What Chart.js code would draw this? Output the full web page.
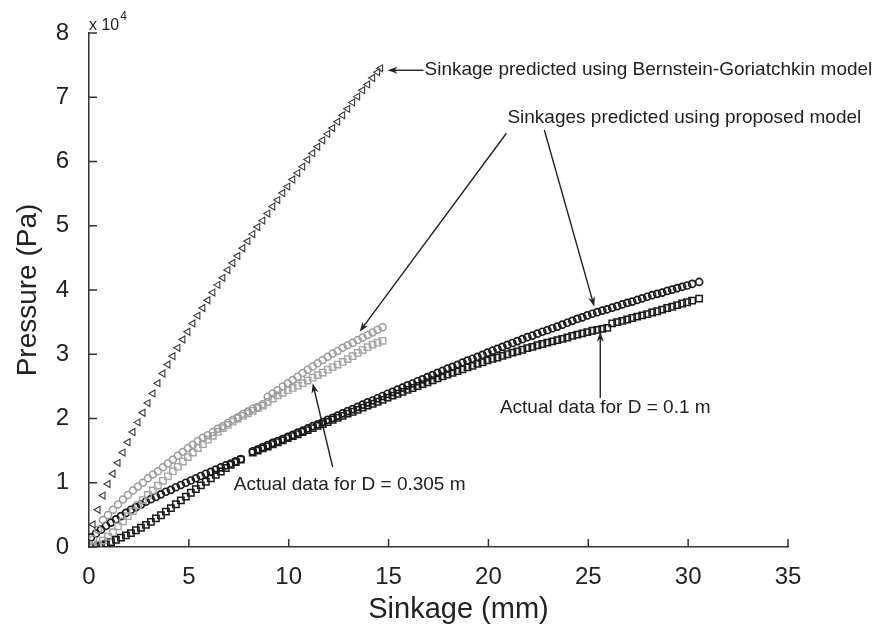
<!DOCTYPE html>
<html>
<head>
<meta charset="utf-8">
<script src="https://cdn.jsdelivr.net/npm/chart.js@4/dist/chart.umd.min.js"></script>
<style>
  body { margin: 0; background: #fff; }
  #plot { display: block; }
</style>
</head>
<body>
<canvas id="plot" width="874" height="627"></canvas>
<script>

// pressure values are in units of 10^4 Pa, sinkage in mm

// Bernstein-Goriatchkin prediction
var bgSinkage = [0.2, 0.45, 0.7, 0.95, 1.2, 1.45, 1.7, 1.95, 2.2, 2.45, 2.7, 2.95, 3.2, 3.45, 3.7, 3.95, 4.2, 4.45, 4.7, 4.95,
    5.2, 5.45, 5.7, 5.95, 6.2, 6.45, 6.7, 6.95, 7.2, 7.45, 7.7, 7.95, 8.2, 8.45, 8.7, 8.95, 9.2, 9.45, 9.7, 9.95,
    10.2, 10.45, 10.7, 10.95, 11.2, 11.45, 11.7, 11.95, 12.2, 12.45, 12.7, 12.95, 13.2, 13.45, 13.7, 13.95, 14.2, 14.45, 14.6];
var bgPressure = [0.35, 0.58, 0.80, 0.98, 1.14, 1.31, 1.47, 1.63, 1.79, 1.94, 2.09, 2.24, 2.39, 2.55, 2.70, 2.84, 2.97, 3.10, 3.23, 3.35,
    3.48, 3.60, 3.72, 3.84, 3.96, 4.08, 4.19, 4.31, 4.42, 4.53, 4.65, 4.76, 4.87, 4.98, 5.08, 5.19, 5.30, 5.40, 5.51, 5.61,
    5.72, 5.82, 5.92, 6.03, 6.13, 6.23, 6.33, 6.43, 6.52, 6.62, 6.72, 6.82, 6.92, 7.01, 7.11, 7.20, 7.30, 7.39, 7.45];

// D = 0.305 m plate
var sinkD0305 = [0.2, 0.45, 0.7, 0.95, 1.2, 1.45, 1.7, 1.95, 2.2, 2.45, 2.7, 2.95, 3.2, 3.45, 3.7, 3.95, 4.2, 4.45, 4.7, 4.95,
    5.2, 5.45, 5.7, 5.95, 6.2, 6.45, 6.7, 6.95, 7.2, 7.45, 7.7, 7.95, 8.2, 8.45, 8.7, 8.95, 9.2, 9.45, 9.7, 9.95,
    10.2, 10.45, 10.7, 10.95, 11.2, 11.45, 11.7, 11.95, 12.2, 12.45, 12.7, 12.95, 13.2, 13.45, 13.7, 13.95, 14.2, 14.45, 14.7];
var modelD0305 = [0.12, 0.27, 0.42, 0.50, 0.58, 0.66, 0.74, 0.81, 0.88, 0.94, 1.00, 1.07, 1.13, 1.18, 1.24, 1.30, 1.36, 1.42, 1.48, 1.54,
    1.59, 1.65, 1.70, 1.74, 1.79, 1.84, 1.88, 1.93, 1.98, 2.02, 2.07, 2.11, 2.15, 2.18, 2.22, 2.34, 2.39, 2.44, 2.50, 2.55,
    2.60, 2.65, 2.71, 2.76, 2.81, 2.86, 2.91, 2.96, 3.01, 3.05, 3.10, 3.14, 3.18, 3.22, 3.26, 3.30, 3.34, 3.38, 3.42];
var actualD0305 = [0.0, 0.04, 0.10, 0.16, 0.23, 0.32, 0.40, 0.48, 0.56, 0.65, 0.73, 0.81, 0.88, 0.955, 1.03, 1.10, 1.18, 1.25, 1.33, 1.40,
    1.47, 1.54, 1.60, 1.67, 1.73, 1.79, 1.85, 1.90, 1.95, 2.00, 2.04, 2.08, 2.12, 2.16, 2.20, 2.26, 2.31, 2.36, 2.40, 2.44,
    2.475, 2.51, 2.55, 2.59, 2.635, 2.675, 2.715, 2.76, 2.80, 2.84, 2.88, 2.925, 2.97, 3.02, 3.065, 3.11, 3.15, 3.18, 3.21];

// D = 0.1 m plate
var sinkD01 = [0.1, 0.35, 0.6, 0.85, 1.1, 1.35, 1.6, 1.85, 2.1, 2.35, 2.6, 2.85, 3.1, 3.35, 3.6, 3.85, 4.1, 4.35, 4.6, 4.85,
    5.1, 5.35, 5.6, 5.85, 6.1, 6.35, 6.6, 6.85, 7.1, 7.35, 7.6,
    8.2, 8.45, 8.7, 8.95, 9.2, 9.45, 9.7, 9.95, 10.2, 10.45, 10.7, 10.95, 11.2, 11.45, 11.7, 11.95, 12.2, 12.45, 12.7, 12.95,
    13.2, 13.45, 13.7, 13.95, 14.2, 14.45, 14.7, 14.95, 15.2, 15.45, 15.7, 15.95, 16.2, 16.45, 16.7, 16.95, 17.2, 17.45, 17.7, 17.95,
    18.2, 18.45, 18.7, 18.95, 19.2, 19.45, 19.7, 19.95, 20.2, 20.45, 20.7, 20.95, 21.2, 21.45, 21.7, 21.95, 22.2, 22.45, 22.7, 22.95,
    23.2, 23.45, 23.7, 23.95, 24.2, 24.45, 24.7, 24.95, 25.2, 25.45, 25.7, 25.95, 26.2, 26.45, 26.7, 26.95, 27.2, 27.45, 27.7, 27.95,
    28.2, 28.45, 28.7, 28.95, 29.2, 29.45, 29.7, 29.95, 30.2, 30.55];
var modelD01 = [0.15, 0.21, 0.27, 0.33, 0.38, 0.43, 0.48, 0.53, 0.58, 0.62, 0.66, 0.705, 0.745, 0.78, 0.82, 0.86, 0.89, 0.93, 0.965, 1.00,
    1.035, 1.07, 1.105, 1.14, 1.17, 1.205, 1.24, 1.27, 1.30, 1.335, 1.37,
    1.49, 1.52, 1.555, 1.585, 1.62, 1.65, 1.68, 1.715, 1.745, 1.78, 1.81, 1.845, 1.88, 1.91, 1.945, 1.98, 2.01, 2.045, 2.08, 2.115,
    2.145, 2.18, 2.215, 2.25, 2.28, 2.315, 2.35, 2.385, 2.415, 2.45, 2.48, 2.515, 2.545, 2.58, 2.61, 2.645, 2.675, 2.71, 2.74, 2.775,
    2.805, 2.835, 2.87, 2.90, 2.93, 2.96, 2.99, 3.025, 3.055, 3.085, 3.115, 3.145, 3.175, 3.205, 3.235, 3.265, 3.29, 3.32, 3.35, 3.375,
    3.405, 3.43, 3.46, 3.49, 3.52, 3.55, 3.575, 3.605, 3.63, 3.655, 3.68, 3.70, 3.725, 3.75, 3.775, 3.80, 3.82, 3.845, 3.87, 3.895,
    3.92, 3.94, 3.96, 3.985, 4.005, 4.03, 4.05, 4.07, 4.095, 4.125];
var actualD01 = [0.0, 0.01, 0.025, 0.045, 0.075, 0.11, 0.145, 0.18, 0.215, 0.26, 0.30, 0.345, 0.39, 0.445, 0.495, 0.55, 0.605, 0.665, 0.725, 0.785,
    0.845, 0.90, 0.96, 1.015, 1.07, 1.125, 1.175, 1.23, 1.28, 1.32, 1.36,
    1.47, 1.50, 1.535, 1.565, 1.60, 1.63, 1.66, 1.695, 1.725, 1.755, 1.79, 1.82, 1.85, 1.885, 1.915, 1.945, 1.98, 2.01, 2.04, 2.075,
    2.105, 2.135, 2.17, 2.20, 2.23, 2.26, 2.29, 2.325, 2.355, 2.385, 2.415, 2.445, 2.475, 2.505, 2.535, 2.565, 2.595, 2.625, 2.655, 2.685,
    2.71, 2.74, 2.765, 2.795, 2.82, 2.85, 2.875, 2.905, 2.93, 2.95, 2.975, 3.00, 3.025, 3.045, 3.07, 3.095, 3.115, 3.14, 3.16, 3.18,
    3.20, 3.22, 3.24, 3.26, 3.285, 3.305, 3.325, 3.345, 3.365, 3.38, 3.395, 3.41, 3.48, 3.50, 3.52, 3.54, 3.565, 3.585, 3.605, 3.625,
    3.65, 3.67, 3.695, 3.72, 3.74, 3.765, 3.79, 3.81, 3.835, 3.865];

var xTicks = [0, 5, 10, 15, 20, 25, 30, 35];
var yTicks = [0, 1, 2, 3, 4, 5, 6, 7, 8];

var FONT = "'Liberation Sans', Arial, Helvetica, sans-serif";
var INK = '#222';

function pairs(xs, ys) {
    var out = [];
    for (var i = 0; i < xs.length; i++) {
        out.push({ x: xs[i], y: ys[i] });
    }
    return out;
}

// text + arrows, positioned in data units
var notes = [
    { text: 'Sinkage predicted using Bernstein-Goriatchkin model', at: [16.8, 7.42], align: 'left',
      arrows: [[16.75, 7.42, 14.95, 7.42]] },
    { text: 'Sinkages predicted using proposed model', at: [20.95, 6.68], align: 'left',
      arrows: [[20.9, 6.44, 13.55, 3.35], [22.8, 6.49, 25.3, 3.74]] },
    { text: 'Actual data for D = 0.305 m', at: [13.05, 0.965], align: 'center',
      arrows: [[12.2, 1.245, 11.2, 2.55]] },
    { text: 'Actual data for D = 0.1 m', at: [25.85, 2.16], align: 'center',
      arrows: [[25.6, 2.32, 25.6, 3.35]] }
];

function drawArrow(ctx, x0, y0, x1, y1) {
    var ang = Math.atan2(y1 - y0, x1 - x0);
    var len = 10, half = 3.5;
    ctx.beginPath();
    ctx.moveTo(x0, y0);
    ctx.lineTo(x1 - Math.cos(ang) * len * 0.6, y1 - Math.sin(ang) * len * 0.6);
    ctx.stroke();
    ctx.beginPath();
    ctx.moveTo(x1, y1);
    ctx.lineTo(x1 - Math.cos(ang) * len - Math.sin(ang) * half, y1 - Math.sin(ang) * len + Math.cos(ang) * half);
    ctx.lineTo(x1 - Math.cos(ang) * len * 0.7, y1 - Math.sin(ang) * len * 0.7);
    ctx.lineTo(x1 - Math.cos(ang) * len + Math.sin(ang) * half, y1 - Math.sin(ang) * len - Math.cos(ang) * half);
    ctx.closePath();
    ctx.fill();
}

var decorations = {
    id: 'decorations',
    afterDraw: function(chart) {
        var ctx = chart.ctx;
        var xs = chart.scales.x, ys = chart.scales.y;
        var area = chart.chartArea;
        ctx.save();

        // inward tick marks, matlab style
        ctx.strokeStyle = '#333';
        ctx.lineWidth = 1.5;
        ctx.beginPath();
        xTicks.forEach(function(v) {
            var px = xs.getPixelForValue(v);
            ctx.moveTo(px, area.bottom);
            ctx.lineTo(px, area.bottom - 8);
        });
        yTicks.forEach(function(v) {
            var py = ys.getPixelForValue(v);
            ctx.moveTo(area.left, py);
            ctx.lineTo(area.left + 8, py);
        });
        ctx.stroke();

        // exponent over the y axis
        ctx.fillStyle = INK;
        ctx.textBaseline = 'alphabetic';
        ctx.textAlign = 'left';
        ctx.font = '16px ' + FONT;
        ctx.fillText('x 10', area.left, area.top - 3);
        var w = ctx.measureText('x 10').width;
        ctx.font = '12px ' + FONT;
        ctx.fillText('4', area.left + w + 1, area.top - 13);

        // x axis title, sits a little right of centre
        ctx.font = '29px ' + FONT;
        ctx.textAlign = 'center';
        ctx.textBaseline = 'middle';
        ctx.fillText('Sinkage (mm)', (area.left + area.right) / 2 + 20, chart.height - 17);

        // annotations
        ctx.strokeStyle = INK;
        ctx.fillStyle = INK;
        ctx.lineWidth = 1.4;
        ctx.font = '19px ' + FONT;
        ctx.textBaseline = 'middle';
        notes.forEach(function(n) {
            ctx.textAlign = n.align;
            ctx.fillText(n.text, xs.getPixelForValue(n.at[0]), ys.getPixelForValue(n.at[1]));
            n.arrows.forEach(function(a) {
                drawArrow(ctx, xs.getPixelForValue(a[0]), ys.getPixelForValue(a[1]),
                          xs.getPixelForValue(a[2]), ys.getPixelForValue(a[3]));
            });
        });
        ctx.restore();
    }
};

var hollow = 'rgba(0,0,0,0)';

new Chart(document.getElementById('plot'), {
    type: 'scatter',
    data: {
        datasets: [
            { label: 'Bernstein-Goriatchkin', data: pairs(bgSinkage, bgPressure),
              pointStyle: 'triangle', rotation: -90, pointRadius: 4, borderWidth: 1.1,
              borderColor: '#383838', backgroundColor: hollow },
            { label: 'Model D = 0.305 m', data: pairs(sinkD0305, modelD0305),
              pointStyle: 'circle', pointRadius: 3.5, borderWidth: 1.5,
              borderColor: '#9c9c9c', backgroundColor: hollow },
            { label: 'Actual D = 0.305 m', data: pairs(sinkD0305, actualD0305),
              pointStyle: 'rect', pointRadius: 4.5, borderWidth: 1.4,
              borderColor: '#a4a4a4', backgroundColor: hollow },
            { label: 'Model D = 0.1 m', data: pairs(sinkD01, modelD01),
              pointStyle: 'circle', pointRadius: 3.5, borderWidth: 1.7,
              borderColor: '#1a1a1a', backgroundColor: hollow },
            { label: 'Actual D = 0.1 m', data: pairs(sinkD01, actualD01),
              pointStyle: 'rect', pointRadius: 4.5, borderWidth: 1.5,
              borderColor: '#1a1a1a', backgroundColor: hollow }
        ]
    },
    options: {
        responsive: false,
        devicePixelRatio: 1,
        animation: false,
        layout: { padding: { top: 33, right: 86, bottom: 0, left: 0 } },
        plugins: {
            legend: { display: false },
            tooltip: { enabled: false }
        },
        scales: {
            x: {
                type: 'linear', min: 0, max: 35,
                grid: { display: false },
                border: { display: true, color: '#333', width: 1.5 },
                ticks: { stepSize: 5, padding: 8, color: INK, font: { family: FONT, size: 24 } },
                title: { display: false },
                afterFit: function(s) { s.height = 80; }
            },
            y: {
                type: 'linear', min: 0, max: 8,
                grid: { display: false },
                border: { display: true, color: '#333', width: 1.5 },
                ticks: { stepSize: 1, padding: 12, color: INK, font: { family: FONT, size: 24 } },
                title: { display: true, text: 'Pressure (Pa)', color: INK, padding: { top: 11, bottom: 4 },
                         font: { family: FONT, size: 28 } },
                afterFit: function(s) { s.width = 89; }
            }
        }
    },
    plugins: [decorations]
});
</script>
</body>
</html>
